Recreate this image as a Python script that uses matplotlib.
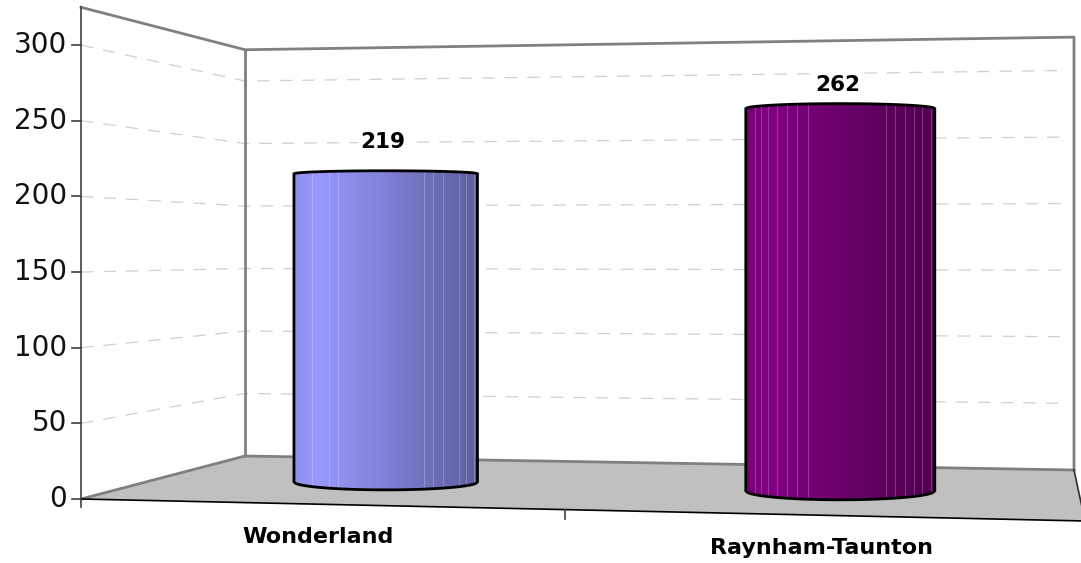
import numpy as np
import matplotlib
matplotlib.use('Agg')
import matplotlib.pyplot as plt
from matplotlib.colors import LinearSegmentedColormap
from matplotlib.patches import Polygon

categories = ['Wonderland', 'Raynham-Taunton']
values     = [219, 262]
y_ticks    = [0, 50, 100, 150, 200, 250, 300]
y_top      = 325

# chart box corners in pixels, Excel style fake perspective
FL, FR = (81, 499), (1085, 521)
BL, BR = (245, 456), (1074, 470)
scale_FL, scale_FR, scale_BL, scale_BR = 1.513, 1.64, 1.25, 1.332

def project(v, u, d):
    '''value v at position u along the category axis and depth d (0 front, 1 back)'''
    x0 = (1-u)*FL[0] + u*FR[0]
    x1 = (1-u)*BL[0] + u*BR[0]
    y0 = (1-u)*FL[1] + u*FR[1]
    y1 = (1-u)*BL[1] + u*BR[1]
    s0 = (1-u)*scale_FL + u*scale_FR
    s1 = (1-u)*scale_BL + u*scale_BR
    return (1-d)*x0 + d*x1, (1-d)*y0 + d*y1 - v*((1-d)*s0 + d*s1)

fig = plt.figure(figsize=(10.81, 5.63), dpi=100, facecolor='white')
ax = fig.add_axes([0, 0, 1, 1])
ax.set_xlim(0, 1081)
ax.set_ylim(563, 0)
ax.axis('off')

GREY = '#808080'

# floor
ax.add_patch(Polygon([FL, FR, BR, BL], closed=True, fc='#c0c0c0', ec='none', zorder=1))

# gridlines on the side and back walls
for v in y_ticks[1:]:
    a = project(v, 0, 0)
    b = project(v, 0, 1)
    c = project(v, 0.99, 1)
    ax.plot([a[0], b[0], c[0]], [a[1], b[1], c[1]], color='#d0d0d0', lw=0.9,
            dashes=(10, 8), zorder=2)

# wall edges
top_l, top_b, top_r = project(y_top, 0, 0), project(y_top, 0, 1), project(y_top, 1, 1)
ax.plot([top_l[0], top_b[0], top_r[0], BR[0]], [top_l[1], top_b[1], top_r[1], BR[1]],
        color=GREY, lw=2, zorder=3)
ax.plot([top_b[0], BL[0]], [top_b[1], BL[1]], color=GREY, lw=2, zorder=3)
ax.plot([FL[0], BL[0], BR[0]], [FL[1], BL[1], BR[1]], color=GREY, lw=2, zorder=3)

# front axes
ax.plot([FL[0], FR[0]], [FL[1], FR[1]], color='black', lw=1.2, zorder=4)
ax.plot([BR[0], FR[0]], [BR[1], FR[1]], color='#303030', lw=1.2, zorder=4)
ax.plot([top_l[0], FL[0]], [top_l[1], FL[1] + 8], color='#404040', lw=1.2, zorder=4)
for v in y_ticks:
    x, y = project(v, 0, 0)
    ax.plot([x - 9, x], [y, y], color='#404040', lw=1.2, zorder=4)
    ax.text(x - 14, y, str(v), ha='right', va='center', fontsize=20,
            color='#111111', family='DejaVu Sans')
for u in [0.482]:
    x, y = project(0, u, 0)
    ax.plot([x, x], [y, y + 9], color='#404040', lw=1.2, zorder=4)

# cylinders
bar_u      = [0.243, 0.739]
half_width = [91.75, 94.5]
cap_top    = [3, 5]
cap_bottom = [8, 9]
label_u    = [0.236, 0.738]
label_gap  = [32, 24]
base_color = ['#9999ff', '#800080']
stripes    = [[.10, .19, .24, .71, .76, .81, .90, .94, .98],
              [.05, .08, .12, .165, .22, .27, .33, .74, .79, .84, .89, .93, .98]]
shade_pos  = [0, .12, .45, .7, .85, 1]
shade_amt  = [.93, 1, .86, .74, .68, .62]

for i, val in enumerate(values):
    xc, yb = project(0, bar_u[i], 0.5)
    _, yt  = project(val, bar_u[i], 0.5)
    r = half_width[i]
    t = np.linspace(-1, 1, 121)
    xs = xc + r*t
    top_edge = yt - cap_top[i]*np.sqrt(1 - t**2)
    bot_edge = yb + cap_bottom[i]*np.sqrt(1 - t**2)
    outline = np.r_[np.c_[xs, top_edge], np.c_[xs[::-1], bot_edge[::-1]]]

    base = np.array(matplotlib.colors.to_rgb(base_color[i]))
    cmap = LinearSegmentedColormap.from_list(
        f'cyl{i}', [(p, tuple(base*s)) for p, s in zip(shade_pos, shade_amt)])
    im = ax.imshow(np.linspace(0, 1, 256)[None, :], cmap=cmap, aspect='auto',
                   extent=(xc - r, xc + r, yb + 12, yt - 8), zorder=5)
    clip = Polygon(outline, closed=True, transform=ax.transData, fc='none', ec='none')
    ax.add_patch(clip)
    im.set_clip_path(clip)

    for f in stripes[i]:
        sx = xc - r + 2*r*f
        k = np.interp(sx, xs, bot_edge)
        ax.plot([sx, sx], [np.interp(sx, xs, top_edge), k], color='white', alpha=0.22,
                lw=0.8, zorder=6)

    ax.add_patch(Polygon(outline, closed=True, fc='none', ec='black', lw=2,
                         joinstyle='miter', zorder=7))

    ax.text(xc - 3, yt - label_gap[i], str(val), ha='center', va='center', fontsize=15.5,
            fontweight='bold', color='black', family='DejaVu Sans', zorder=8,
            bbox=dict(fc='white', ec='none', pad=1.5))

    lx, ly = project(0, label_u[i], 0)
    ax.text(lx, ly + 33, categories[i], ha='center', va='center', fontsize=16,
            fontweight='bold', color='black', family='DejaVu Sans')

ax.set_xlim(0, 1081)
ax.set_ylim(563, 0)

plt.savefig('out.png', dpi=100, facecolor='white')
plt.close()
